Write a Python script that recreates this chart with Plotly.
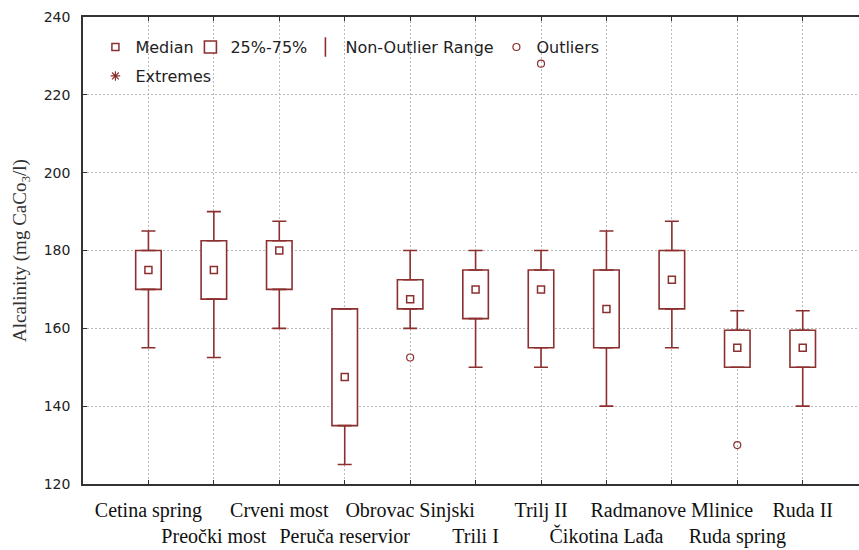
import plotly.graph_objects as go

# ---- data ----
sites = ["Cetina spring", "Preočki most", "Crveni most", "Peruča reservior",
         "Obrovac Sinjski", "Trili I", "Trilj II", "Čikotina Lađa",
         "Radmanove Mlinice", "Ruda spring", "Ruda II"]
whisker_low = [155, 152.5, 160, 125, 160, 150, 150, 140, 155, 150, 140]
q1 = [170, 167.5, 170, 135, 165, 162.5, 155, 155, 165, 150, 150]
median = [175, 175, 180, 147.5, 167.5, 170, 170, 165, 172.5, 155, 155]
q3 = [180, 182.5, 182.5, 165, 172.5, 175, 175, 175, 180, 159.5, 159.5]
whisker_high = [185, 190, 187.5, 165, 180, 180, 180, 185, 187.5, 164.5, 164.5]
outlier_sites = ["Obrovac Sinjski", "Trilj II", "Ruda spring"]
outlier_vals = [152.5, 228, 130]
y_ticks = [120, 140, 160, 180, 200, 220, 240]

RED = "#8c2f2f"
LW = 1.6

# staggered two-row tick labels
tick_text = [s if i % 2 == 0 else "<br>" + s for i, s in enumerate(sites)]

fig = go.Figure()

# 25%-75% boxes
fig.add_trace(go.Bar(
    x=sites, y=[b - a for a, b in zip(q1, q3)], base=q1, width=0.39,
    marker=dict(color="white", line=dict(color=RED, width=LW)),
    name="25%-75%", showlegend=False, hoverinfo="skip"))

# whiskers (upper and lower) drawn as error bars from box edges
fig.add_trace(go.Scatter(
    x=sites, y=q3, mode="markers", marker=dict(size=1, opacity=0),
    error_y=dict(type="data", symmetric=False,
                 array=[h - b for h, b in zip(whisker_high, q3)],
                 arrayminus=[0] * len(sites),
                 color=RED, thickness=LW, width=7),
    showlegend=False, hoverinfo="skip"))
fig.add_trace(go.Scatter(
    x=sites, y=q1, mode="markers", marker=dict(size=1, opacity=0),
    error_y=dict(type="data", symmetric=False,
                 array=[0] * len(sites),
                 arrayminus=[a - l for a, l in zip(q1, whisker_low)],
                 color=RED, thickness=LW, width=7),
    showlegend=False, hoverinfo="skip"))

# medians
fig.add_trace(go.Scatter(
    x=sites, y=median, mode="markers",
    marker=dict(symbol="square-open", size=7, color=RED, line=dict(width=1.5, color=RED)),
    name="Median", showlegend=False))

# outliers
fig.add_trace(go.Scatter(
    x=outlier_sites, y=outlier_vals, mode="markers",
    marker=dict(symbol="circle-open", size=7, color=RED, line=dict(width=1.2, color=RED)),
    name="Outliers", showlegend=False))

# legend entries
leg_font = dict(family="DejaVu Sans", size=16, color="#222")
fig.add_trace(go.Scatter(x=[None], y=[None], mode="markers", name="Median",
                         marker=dict(symbol="square-open", size=7, color=RED,
                                     line=dict(width=1.5, color=RED)),
                         legend="legend", legendwidth=50))
fig.add_trace(go.Bar(x=[None], y=[None], name="25%-75%",
                     marker=dict(color="white", line=dict(color=RED, width=LW)),
                     legend="legend", legendwidth=70))
fig.add_trace(go.Scatter(x=[None], y=[None], mode="markers", name="Non-Outlier Range",
                         marker=dict(symbol="line-ns-open", size=14, color=RED,
                                     line=dict(width=1.6, color=RED)),
                         legend="legend", legendwidth=146))
fig.add_trace(go.Scatter(x=[None], y=[None], mode="markers", name="Outliers",
                         marker=dict(symbol="circle-open", size=7, color=RED,
                                     line=dict(width=1.2, color=RED)), legend="legend"))
fig.add_trace(go.Scatter(x=[None], y=[None], mode="markers", name="Extremes",
                         marker=dict(symbol="asterisk-open", size=8, color=RED,
                                     line=dict(width=1.2, color=RED)), legend="legend2"))

fig.update_layout(
    width=859, height=550,
    margin=dict(l=83, r=0, t=17, b=66),
    paper_bgcolor="white", plot_bgcolor="white",
    barmode="overlay",
    legend=dict(orientation="h", x=0.016, y=0.972, xanchor="left", yanchor="top",
                bgcolor="rgba(0,0,0,0)", borderwidth=0, font=leg_font,
                traceorder="normal", itemwidth=30),
    legend2=dict(orientation="h", x=0.016, y=0.910, xanchor="left", yanchor="top",
                 bgcolor="rgba(0,0,0,0)", borderwidth=0, font=leg_font, itemwidth=30),
    xaxis=dict(
        type="category", range=[-1.0, 10.86],
        tickmode="array", tickvals=sites, ticktext=tick_text, tickangle=0,
        ticks="inside", ticklen=4, tickcolor="#333", tickwidth=1,
        showline=True, linecolor="#333", linewidth=1.5, mirror="ticks",
        showgrid=True, gridcolor="#b8b8b8", griddash="2px,2px", gridwidth=1,
        tickfont=dict(family="Liberation Serif", size=20, color="#111"),
        ticklabelstandoff=7, zeroline=False, automargin=False),
    yaxis=dict(
        range=[120, 240], tickmode="array", tickvals=y_ticks,
        ticks="inside", ticklen=4, tickcolor="#333", tickwidth=1,
        showline=True, linecolor="#333", linewidth=1.5, mirror=False,
        showgrid=True, gridcolor="#b8b8b8", griddash="2px,2px", gridwidth=1,
        tickfont=dict(family="DejaVu Sans", size=14, color="#222"),
        ticklabelstandoff=8, zeroline=False, automargin=False,
        title=dict(text="Alcalinity (mg CaCo<sub>3</sub>/l)",
                   font=dict(family="Liberation Serif", size=19, color="#333"),
                   standoff=12)),
)

fig.write_html("out.html")
